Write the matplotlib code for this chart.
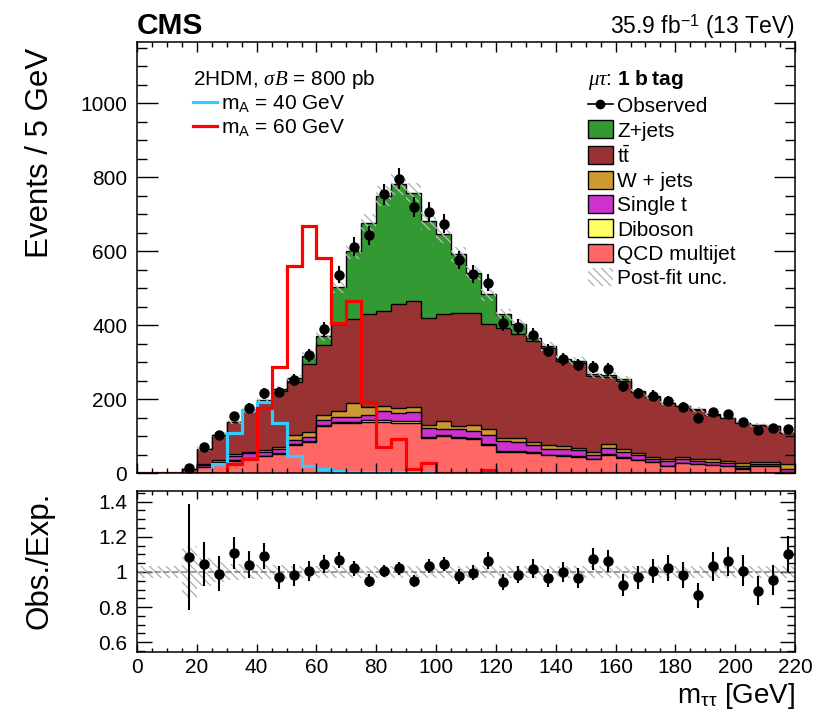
import numpy as np
import matplotlib
matplotlib.use("Agg")
import matplotlib.pyplot as plt
from matplotlib.patches import Patch
from matplotlib.lines import Line2D
from matplotlib.ticker import MultipleLocator

plt.rcParams['font.family'] = ['Liberation Sans', 'DejaVu Sans']
plt.rcParams['mathtext.fontset'] = 'custom'
plt.rcParams['mathtext.rm'] = 'Liberation Sans'
plt.rcParams['mathtext.it'] = 'Liberation Serif:italic'
plt.rcParams['mathtext.bf'] = 'Liberation Sans:bold'
plt.rcParams['hatch.linewidth'] = 1.0

# 5 GeV bins from 0 to 220
edges = np.arange(0, 225, 5)

# background components (post-fit), bottom of the stack first
qcd = [0, 0, 0, 0, 16, 24, 32, 39, 45, 52, 75, 84, 127, 136, 135, 138, 138, 136, 136, 95, 100, 95,
       91, 75, 57, 57, 55, 48, 46, 44, 37, 50, 41, 35, 30, 19, 26, 24, 21, 19, 12, 19, 19, 3]
diboson = [0, 0, 0, 0, 1, 1, 2, 2, 2, 2, 3, 3, 3, 3, 3, 4, 4, 4, 4, 3, 3, 3,
           3, 3, 2, 2, 2, 2, 2, 2, 2, 2, 2, 1, 1, 1, 1, 1, 1, 1, 1, 1, 1, 1]
single_t = [0, 0, 0, 1, 5, 5, 12, 12, 11, 10, 12, 10, 12, 13, 14, 16, 25, 23, 25, 24, 17, 20,
            20, 24, 27, 24, 18, 16, 16, 15, 11, 16, 14, 12, 8, 12, 10, 7, 8, 6, 6, 4, 4, 8]
wjets = [0, 0, 0, 1, 3, 4, 6, 4, 4, 5, 12, 15, 14, 16, 38, 20, 14, 13, 13, 7, 21, 9,
         15, 18, 9, 11, 9, 11, 9, 7, 7, 11, 9, 5, 5, 7, 7, 7, 7, 6, 7, 6, 6, 12]
ttbar = [0, 0, 0, 10, 40, 69, 85, 111, 133, 153, 143, 184, 189, 234, 225, 251, 257, 280, 288, 290, 289, 306,
         304, 282, 298, 281, 273, 262, 230, 230, 205, 181, 182, 167, 162, 149, 136, 132, 121, 117, 109, 99, 96, 84]
zjets = [0, 0, 0, 0, 1, 1, 1, 2, 3, 4, 12, 20, 26, 101, 185, 248, 311, 324, 292, 262, 215, 158,
         108, 81, 36, 27, 9, 4, 4, 5, 5, 4, 5, 2, 2, 2, 1, 1, 1, 1, 1, 1, 1, 1]

observed = [0, 0, 0, 13, 69, 103, 153, 177, 216, 219, 252, 318, 388, 536, 612, 643, 753, 796, 720, 705, 674, 576,
            538, 514, 405, 396, 373, 331, 307, 292, 287, 280, 234, 215, 209, 194, 178, 149, 164, 159, 137, 116, 121, 120]

# relative post-fit uncertainty of the total background
rel_unc = [0.035, 0.035, 0.035, 0.15, 0.08, 0.055, 0.045, 0.04, 0.04, 0.04, 0.035, 0.035, 0.035, 0.035, 0.035,
           0.035, 0.035, 0.035, 0.035, 0.035, 0.035, 0.035, 0.035, 0.035, 0.035, 0.035, 0.035, 0.035, 0.035,
           0.035, 0.035, 0.035, 0.035, 0.035, 0.035, 0.035, 0.035, 0.035, 0.035, 0.035, 0.035, 0.035, 0.035, 0.035]

# signal hypotheses
sig_ma40 = [0, 0, 0, 0, 4, 23, 109, 170, 192, 136, 45, 19, 10, 6, 4, 3, 2, 2, 2, 1, 0, 0,
            0, 2, 0, 0, 0, 0, 0, 0, 0, 0, 0, 0, 0, 0, 0, 0, 0, 0, 0, 0, 0, 0]
sig_ma60 = [0, 0, 0, 0, 0, 0, 23, 37, 177, 287, 559, 667, 582, 406, 466, 192, 70, 93, 10, 28, 0, 0,
            0, 8, 0, 0, 0, 0, 0, 0, 0, 0, 0, 0, 0, 0, 0, 0, 0, 0, 0, 0, 0, 0]

components = [
    ("QCD multijet", qcd, "#ff6666"),
    ("Diboson", diboson, "#ffff66"),
    ("Single t", single_t, "#cc33cc"),
    ("W + jets", wjets, "#cc9933"),
    (r"t$\mathrm{\bar{t}}$", ttbar, "#993333"),
    ("Z+jets", zjets, "#339933"),
]

TICK_FS = 15
LEG_FS = 15

fig = plt.figure(figsize=(8.27, 7.17), dpi=100)
ax = fig.add_axes([0.1657, 0.3403, 0.7956, 0.6011])
rax = fig.add_axes([0.1657, 0.0907, 0.7956, 0.2245], sharex=ax)

# cumulative stack, drawn from the top down like THStack
cums = np.cumsum([np.array(c[1], dtype=float) for c in components], axis=0)
for k in range(len(components) - 1, -1, -1):
    ax.stairs(cums[k], edges, fill=True, facecolor=components[k][2],
              edgecolor="black", linewidth=1.0)

total = cums[-1]
unc = np.array(rel_unc)
ax.stairs(total * (1 + unc), edges, baseline=total * (1 - unc), fill=True,
          facecolor="none", edgecolor="#b5b5b5", hatch="\\\\\\\\", linewidth=0)

ax.stairs(sig_ma40, edges, color="#33ccff", linewidth=2.3)
ax.stairs(sig_ma60, edges, color="#ff0000", linewidth=2.3)

centers = 0.5 * (edges[1:] + edges[:-1])
obs = np.array(observed, dtype=float)
m = obs > 0
ax.errorbar(centers[m], obs[m], yerr=np.sqrt(obs[m]), fmt="o", color="black",
            markersize=6.5, elinewidth=1.5, capsize=0, zorder=5)

ax.set_xlim(0, 220)
ax.set_ylim(0, 1165)
ax.yaxis.set_major_locator(MultipleLocator(200))
ax.yaxis.set_minor_locator(MultipleLocator(50))
ax.xaxis.set_major_locator(MultipleLocator(20))
ax.xaxis.set_minor_locator(MultipleLocator(5))
ax.tick_params(which="both", direction="in", top=True, right=True, labelbottom=False,
               labelsize=TICK_FS, pad=7, width=1.0)
ax.tick_params(axis="y", which="major", length=15)
ax.tick_params(axis="y", which="minor", length=7.5)
ax.tick_params(axis="x", which="major", length=7)
ax.tick_params(axis="x", which="minor", length=3.5)

# ratio panel
ratio = obs[m] / total[m]
ratio_err = np.sqrt(obs[m]) / total[m]
rax.stairs(1 + unc, edges, baseline=1 - unc, fill=True, facecolor="none",
           edgecolor="#b5b5b5", hatch="\\\\\\\\", linewidth=0)
rax.axhline(1.0, color="#888888", linestyle="--", linewidth=1.2)
rax.errorbar(centers[m], ratio, yerr=ratio_err, fmt="o", color="black",
             markersize=6.5, elinewidth=1.5, capsize=0, zorder=5)
rax.set_ylim(0.545, 1.46)
rax.yaxis.set_minor_locator(MultipleLocator(0.05))
rax.set_yticks([0.6, 0.8, 1.0, 1.2, 1.4])
rax.set_yticklabels(["0.6", "0.8", "1", "1.2", "1.4"])
rax.tick_params(which="both", direction="in", top=True, right=True, labelsize=TICK_FS, width=1.0)
rax.tick_params(axis="y", which="major", length=11, pad=7)
rax.tick_params(axis="y", which="minor", length=5.5)
rax.tick_params(axis="x", which="major", length=6, pad=4)
rax.tick_params(axis="x", which="minor", length=3)

for a in (ax, rax):
    for s in a.spines.values():
        s.set_linewidth(1.1)

# labels
fig.text(40 / 827, 1 - 48 / 717, "Events / 5 GeV", rotation=90, ha="center", va="top", fontsize=22.5)
fig.text(40 / 827, 1 - 492 / 717, "Obs./Exp.", rotation=90, ha="center", va="top", fontsize=22.5)
fig.text(795 / 827, 1 - 711 / 717, r"m$_{\mathrm{\tau\tau}}$ [GeV]", ha="right", va="bottom", fontsize=20)
fig.text(137 / 827, 1 - 34 / 717, "CMS", ha="left", va="baseline", fontsize=21.5, fontweight="bold")
fig.text(795 / 827, 1 - 34 / 717, r"35.9 fb$^{-1}$ (13 TeV)", ha="right", va="baseline", fontsize=16.5)

# signal legend
sig_handles = [Line2D([], [], color="#33ccff", lw=2.3), Line2D([], [], color="#ff0000", lw=2.3)]
leg1 = ax.legend(sig_handles, [r"m$_\mathrm{A}$ = 40 GeV", r"m$_\mathrm{A}$ = 60 GeV"],
                 title=r"2HDM, $\sigma B$ = 800 pb", title_fontsize=LEG_FS, fontsize=LEG_FS,
                 loc="upper left", bbox_to_anchor=(0.085, 0.94), frameon=False,
                 handlelength=1.15, handletextpad=0.2, labelspacing=0.12, borderpad=0,
                 borderaxespad=0, alignment="left")
ax.add_artist(leg1)

# background legend
bkg_handles = [Line2D([], [], color="black", marker="o", markersize=6, lw=1.2)]
bkg_labels = ["Observed"]
for name, _, col in components[::-1]:
    bkg_handles.append(Patch(facecolor=col, edgecolor="black", linewidth=1.0))
    bkg_labels.append(name)
bkg_handles.append(Patch(facecolor="none", edgecolor="#b5b5b5", hatch="\\\\\\\\", linewidth=0))
bkg_labels.append("Post-fit unc.")
ax.legend(bkg_handles, bkg_labels, title=r"$\mu\tau$: $\mathbf{1\ b\ tag}$", title_fontsize=LEG_FS,
          fontsize=LEG_FS, loc="upper left", bbox_to_anchor=(0.685, 0.94), frameon=False,
          handlelength=1.2, handleheight=0.95, handletextpad=0.2, labelspacing=0.2,
          borderpad=0, borderaxespad=0, alignment="left")

fig.savefig("out.png", dpi=100)
